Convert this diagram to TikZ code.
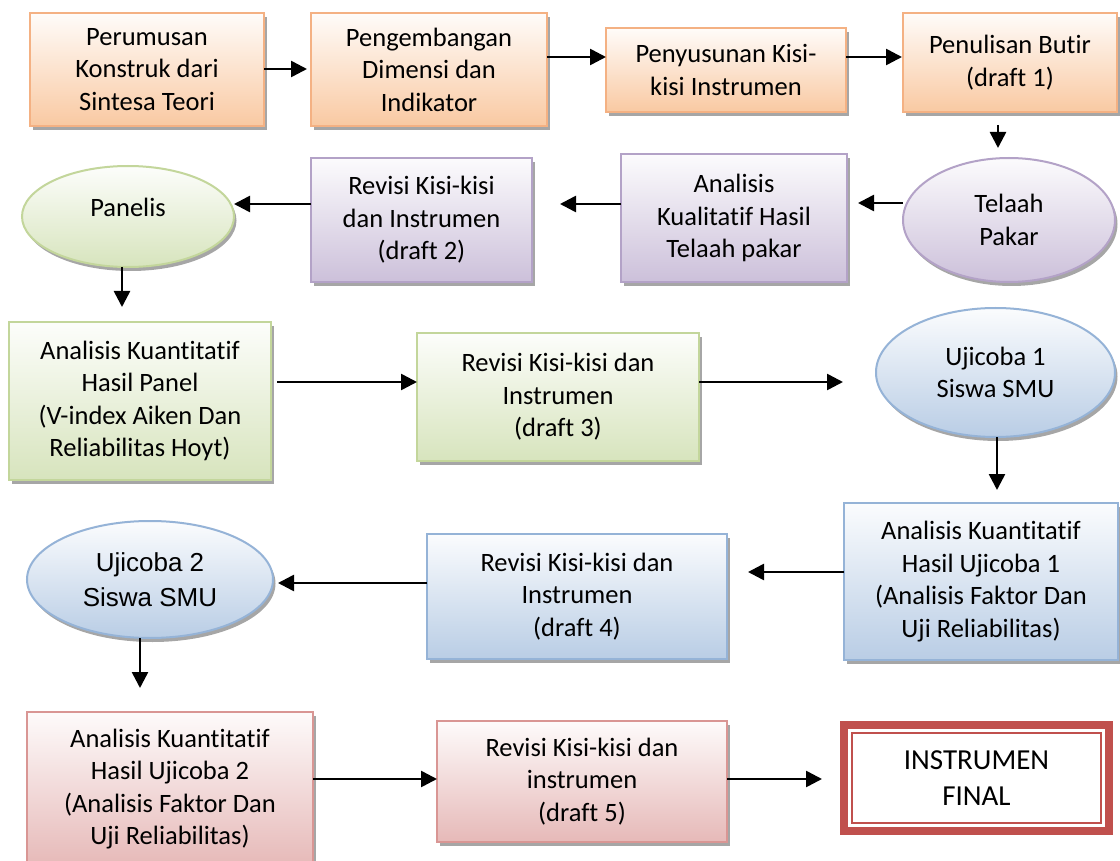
\documentclass[tikz,border=0pt]{standalone}
\usepackage{fontspec}
\setmainfont[Ligatures=NoCommon]{Carlito}
\newfontfamily\arialf{Liberation Sans}
\usetikzlibrary{arrows.meta,shapes.geometric,shadows}
\definecolor{oD}{HTML}{F4B183}\definecolor{oF}{HTML}{F9C9A2}
\definecolor{pD}{HTML}{B3A2C7}\definecolor{pF}{HTML}{CCC0DA}
\definecolor{gD}{HTML}{C3D69B}\definecolor{gF}{HTML}{D7E4BD}
\definecolor{bD}{HTML}{95B3D7}\definecolor{bF}{HTML}{B9CDE5}
\definecolor{rD}{HTML}{D99694}\definecolor{rF}{HTML}{E6B9B8}
\definecolor{finred}{HTML}{C0504D}
\tikzset{
  base/.style={line width=2pt, font=\fontsize{26.5}{32.5}\selectfont, align=center,
    inner sep=0pt, outer sep=0pt, text=black,
    drop shadow={shadow xshift=2.5pt, shadow yshift=-4pt, opacity=0.35, fill=black}},
  bx/.style 2 args={base, rectangle, draw=#1, top color=#2!6!white, bottom color=#2},
  el/.style 2 args={base, ellipse, draw=#1, top color=#2!6!white, bottom color=#2},
  arr/.style={line width=2.6pt, draw=black, -{Triangle[length=16pt,width=16pt]}},
}
\begin{document}
\begin{tikzpicture}[x=1pt,y=-1pt]
\useasboundingbox (0,0) rectangle (1120,861);
\fill[white] (0,0) rectangle (1120,861);
% level coordinates
\coordinate (h68) at (0,69);
\coordinate (h57) at (0,57);
\coordinate (h203) at (0,203);
\coordinate (h204) at (0,204);
\coordinate (h382) at (0,382);
\coordinate (h572) at (0,572);
\coordinate (h583) at (0,583);
\coordinate (h779) at (0,779);
\coordinate (v998) at (998,0);
\coordinate (v122) at (122,0);
\coordinate (v997) at (997,0);
\coordinate (v140) at (140,0);
% row 1
\node[bx={oD}{oF}, minimum width=234, minimum height=113] (a1) at (147,69.5) {Perumusan\\Konstruk dari\\Sintesa Teori};
\node[bx={oD}{oF}, minimum width=236, minimum height=113] (a2) at (429,69.5) {Pengembangan\\Dimensi dan\\Indikator};
\node[bx={oD}{oF}, minimum width=240, minimum height=84] (a3) at (726,70) {Penyusunan Kisi-\\kisi Instrumen};
\node[bx={oD}{oF}, minimum width=214, minimum height=99] (a4) at (1010,62.5) {Penulisan Butir\\(draft 1)};
% row 2
\node[el={pD}{pF}, minimum width=212, minimum height=124] (tp) at (1009,220) {Telaah\\Pakar};
\node[bx={pD}{pF}, minimum width=226, minimum height=128] (ak) at (734,218) {Analisis\\Kualitatif Hasil\\Telaah pakar};
\node[bx={pD}{pF}, minimum width=221, minimum height=124] (r2) at (421.5,220) {Revisi Kisi-kisi\\dan Instrumen\\(draft 2)};
\node[el={gD}{gF}, minimum width=212, minimum height=101] (pan) at (128,216.5) {\raisebox{18pt}{Panelis}};
% row 3
\node[bx={gD}{gF}, minimum width=262, minimum height=158] (akp) at (140,401) {Analisis Kuantitatif\\Hasil Panel\\(V-index Aiken Dan\\Reliabilitas Hoyt)};
\node[bx={gD}{gF}, minimum width=282, minimum height=128] (r3) at (558,397) {Revisi Kisi-kisi dan\\Instrumen\\(draft 3)};
\node[el={bD}{bF}, minimum width=239, minimum height=129] (u1) at (995.5,372.5) {Ujicoba 1\\Siswa SMU};
% row 4
\node[bx={bD}{bF}, minimum width=274, minimum height=157] (aku1) at (981,581.5) {Analisis Kuantitatif\\Hasil Ujicoba 1\\(Analisis Faktor Dan\\Uji Reliabilitas)};
\node[bx={bD}{bF}, minimum width=300, minimum height=125] (r4) at (577,596.5) {Revisi Kisi-kisi dan\\Instrumen\\(draft 4)};
\node[el={bD}{bF}, minimum width=246, minimum height=117, font=\arialf\fontsize{26}{35}\selectfont] (u2) at (150,579.5) {Ujicoba 2\\Siswa SMU};
% row 5
\node[bx={rD}{rF}, minimum width=286, minimum height=154] (aku2) at (170,789) {Analisis Kuantitatif\\Hasil Ujicoba 2\\(Analisis Faktor Dan\\Uji Reliabilitas)};
\node[bx={rD}{rF}, minimum width=290, minimum height=121] (r5) at (582,781.5) {Revisi Kisi-kisi dan\\instrumen\\(draft 5)};
\node[rectangle, draw=finred, line width=8pt, fill=white, inner sep=0pt, outer sep=0pt,
  align=center, font=\fontsize{29}{36}\selectfont, minimum width=265, minimum height=106] (fin) at (976.5,778) {INSTRUMEN\\FINAL};
\draw[finred, line width=2pt] ([shift={(8,8)}]fin.north west) rectangle ([shift={(-8,-8)}]fin.south east);
% arrows
\draw[arr, shorten >=4pt] (a1.east |- h68) -- (a2.west |- h68);
\draw[arr] (a2.east |- h57) -- (a3.west |- h57);
\draw[arr, shorten >=1pt] (a3.east |- h57) -- (a4.west |- h57);
\draw[arr, shorten <=13pt, shorten >=10pt] (a4.south -| v998) -- (tp.north -| v998);
\draw[arr, shorten >=11pt] (tp.west |- h203) -- (ak.east |- h203);
\draw[arr, shorten >=28pt] (ak.west |- h204) -- (r2.east |- h204);
\draw[arr] (r2.west |- h204) -- (pan.east |- h204);
\draw[arr, shorten >=15pt] (pan.south -| v122) -- (akp.north -| v122);
\draw[arr, shorten <=6pt] (akp.east |- h382) -- (r3.west |- h382);
\draw[arr, shorten >=33pt] (r3.east |- h382) -- (u1.west |- h382);
\draw[arr, shorten >=13pt] (u1.south -| v997) -- (aku1.north -| v997);
\draw[arr, shorten >=21pt] (aku1.west |- h572) -- (r4.east |- h572);
\draw[arr, shorten >=5pt] (r4.west |- h583) -- (u2.east |- h583);
\draw[arr, shorten >=24pt] (u2.south -| v140) -- (aku2.north -| v140);
\draw[arr] (aku2.east |- h779) -- (r5.west |- h779);
\draw[arr, shorten >=22pt] (r5.east |- h779) -- (fin.west |- h779);
\end{tikzpicture}
\end{document}
